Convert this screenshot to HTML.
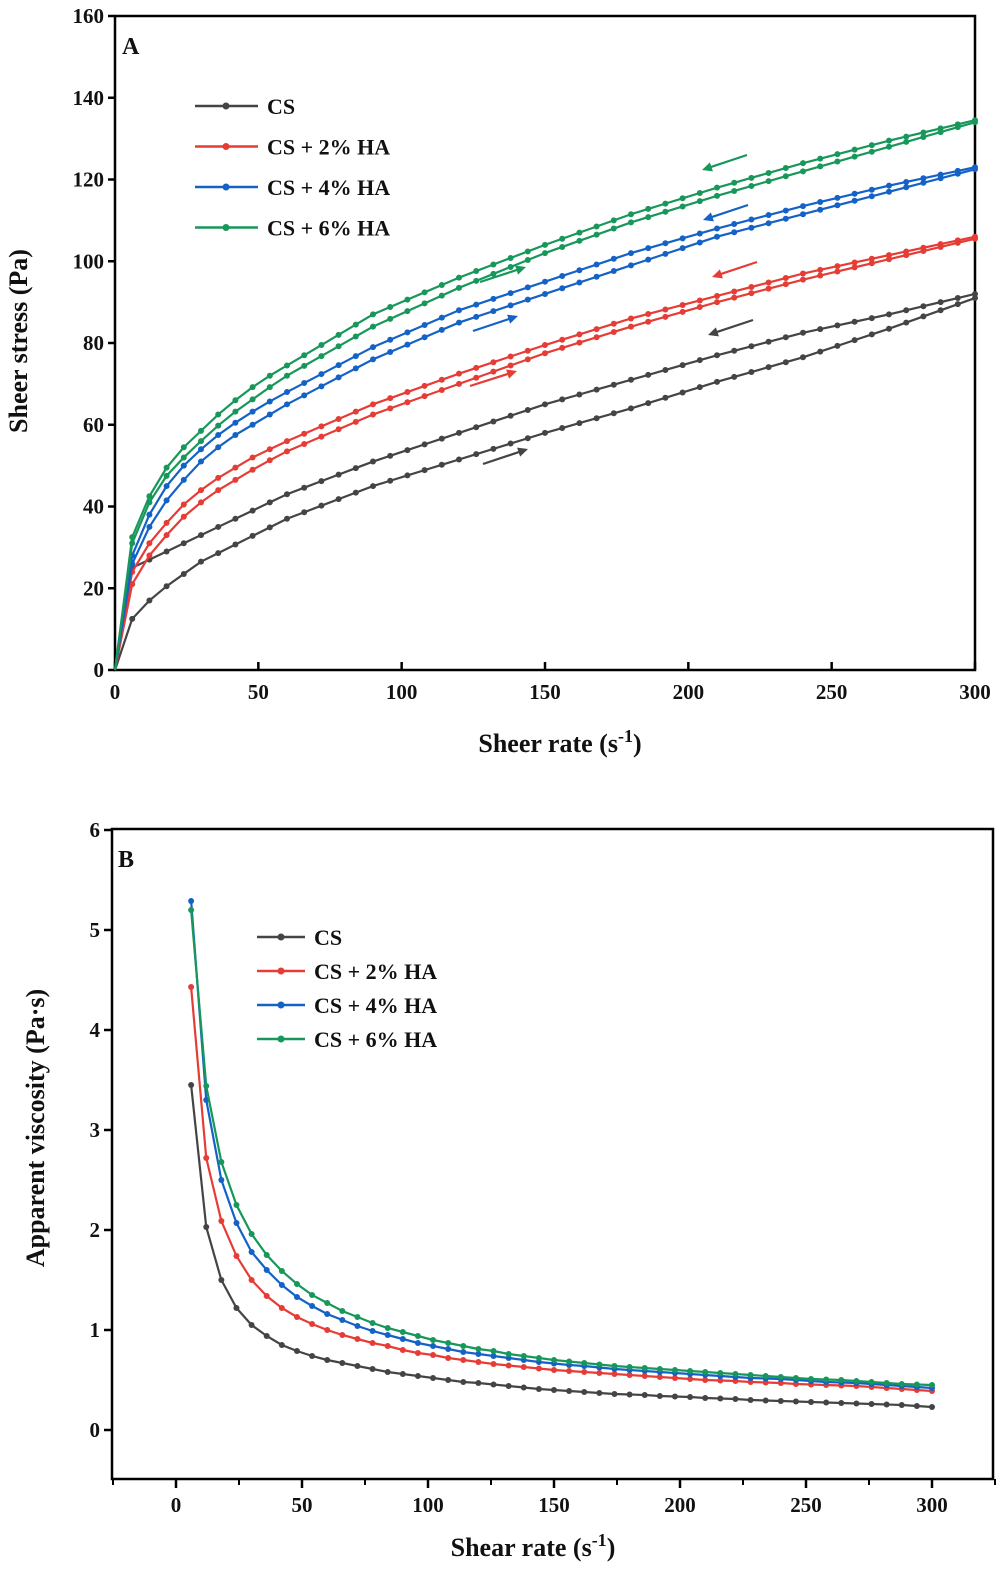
<!DOCTYPE html>
<html><head><meta charset="utf-8"><style>
body{margin:0;background:#fff;}
svg text{font-family:"Liberation Serif",serif;font-weight:bold;fill:#111;}
</style></head><body>
<svg id="chart" width="1006" height="1578" xmlns="http://www.w3.org/2000/svg">
<g id="A"></g>
<g id="B"></g>
</svg>
<script>
const rateA=[0,6,12,18,24,30,36,42,48,54,60,66,72,78,84,90,96,102,108,114,120,126,132,138,144,150,156,162,168,174,180,186,192,198,204,210,216,222,228,234,240,246,252,258,264,270,276,282,288,294,300];
const csUp=[0,12.5,17,20.5,23.5,26.5,28.6,30.7,32.8,34.9,37,38.6,40.2,41.8,43.4,45,46.3,47.6,48.9,50.2,51.5,52.8,54.1,55.4,56.7,58,59.2,60.4,61.6,62.8,64,65.3,66.6,67.9,69.2,70.5,71.7,72.9,74.1,75.3,76.5,77.9,79.3,80.7,82.1,83.5,85,86.5,88,89.5,91];
const csDown=[0,25,27,29,31,33,35,37,39,41,43,44.6,46.2,47.8,49.4,51,52.4,53.8,55.2,56.6,58,59.4,60.8,62.2,63.6,65,66.2,67.4,68.6,69.8,71,72.2,73.4,74.6,75.8,77,78.1,79.2,80.3,81.4,82.5,83.4,84.3,85.2,86.1,87,88,89,90,91,92];
const ha2Up=[0,21,28,33,37.5,41,44,46.5,49,51.3,53.5,55.3,57.1,58.9,60.7,62.5,64,65.5,67,68.5,70,71.5,73,74.5,76,77.5,78.8,80.1,81.4,82.7,84,85.2,86.4,87.6,88.8,90,91.1,92.2,93.3,94.4,95.5,96.5,97.5,98.5,99.5,100.5,101.5,102.5,103.5,104.5,105.5];
const ha2Down=[0,24,31,36,40.5,44,47,49.5,52,54,56,57.8,59.6,61.4,63.2,65,66.5,68,69.5,71,72.5,73.9,75.3,76.7,78.1,79.5,80.8,82.1,83.4,84.7,86,87.1,88.2,89.3,90.4,91.5,92.6,93.7,94.8,95.9,97,97.9,98.8,99.7,100.6,101.5,102.4,103.3,104.2,105.1,106];
const ha4Up=[0,26,35,41.5,46.5,51,54.5,57.5,60,62.5,65,67.2,69.4,71.6,73.8,76,77.8,79.6,81.4,83.2,85,86.4,87.8,89.2,90.6,92,93.4,94.8,96.2,97.6,99,100.4,101.8,103.2,104.6,106,107.1,108.2,109.3,110.4,111.5,112.6,113.7,114.8,115.9,117,118.1,119.2,120.3,121.4,122.5];
const ha4Down=[0,28,38,45,50,54,57.5,60.5,63.2,65.7,68,70.2,72.4,74.6,76.8,79,80.8,82.6,84.4,86.2,88,89.4,90.8,92.2,93.6,95,96.4,97.8,99.2,100.6,102,103.2,104.4,105.6,106.8,108,109.1,110.2,111.3,112.4,113.5,114.5,115.5,116.5,117.5,118.5,119.4,120.3,121.2,122.1,123];
const ha6Up=[0,31,41,47.5,52,56,59.8,63.2,66.2,69.2,72,74.4,76.8,79.2,81.6,84,85.9,87.8,89.7,91.6,93.5,95.2,96.9,98.6,100.3,102,103.5,105,106.5,108,109.5,110.8,112.1,113.4,114.7,116,117.2,118.4,119.6,120.8,122,123.2,124.4,125.6,126.8,128,129.2,130.4,131.6,132.8,134];
const ha6Down=[0,32.5,42.5,49.5,54.5,58.5,62.5,66,69.2,72,74.5,77,79.5,82,84.5,87,88.8,90.6,92.4,94.2,96,97.6,99.2,100.8,102.4,104,105.5,107,108.5,110,111.5,112.8,114.1,115.4,116.7,118,119.2,120.4,121.6,122.8,124,125.1,126.2,127.3,128.4,129.5,130.5,131.5,132.5,133.5,134.5];
const xTicksA=[0,50,100,150,200,250,300];
const yTicksA=[0,20,40,60,80,100,120,140,160];

const rateB=[6,12,18,24,30,36,42,48,54,60,66,72,78,84,90,96,102,108,114,120,126,132,138,144,150,156,162,168,174,180,186,192,198,204,210,216,222,228,234,240,246,252,258,264,270,276,282,288,294,300];
const visCS=[3.45,2.03,1.5,1.22,1.05,0.94,0.85,0.79,0.74,0.70,0.67,0.64,0.61,0.58,0.56,0.54,0.52,0.50,0.48,0.47,0.455,0.44,0.425,0.41,0.40,0.39,0.38,0.37,0.36,0.355,0.35,0.34,0.335,0.33,0.32,0.315,0.31,0.30,0.295,0.29,0.285,0.28,0.275,0.27,0.265,0.26,0.255,0.25,0.24,0.23];
const vis2=[4.43,2.72,2.09,1.74,1.5,1.34,1.22,1.13,1.06,1.0,0.95,0.91,0.87,0.84,0.80,0.77,0.75,0.72,0.70,0.68,0.66,0.645,0.63,0.615,0.60,0.59,0.58,0.57,0.56,0.55,0.54,0.53,0.52,0.51,0.50,0.495,0.49,0.48,0.475,0.47,0.46,0.455,0.45,0.445,0.44,0.43,0.42,0.41,0.40,0.39];
const vis4=[5.29,3.3,2.5,2.07,1.78,1.6,1.45,1.33,1.24,1.16,1.10,1.04,0.99,0.95,0.91,0.87,0.84,0.81,0.78,0.76,0.74,0.72,0.70,0.68,0.665,0.65,0.64,0.625,0.61,0.60,0.59,0.58,0.57,0.56,0.55,0.54,0.53,0.52,0.515,0.51,0.50,0.49,0.48,0.475,0.47,0.46,0.45,0.44,0.43,0.42];
const vis6=[5.2,3.44,2.68,2.25,1.96,1.75,1.59,1.46,1.35,1.27,1.19,1.13,1.07,1.02,0.98,0.94,0.90,0.87,0.84,0.81,0.79,0.76,0.74,0.72,0.70,0.685,0.67,0.655,0.64,0.63,0.62,0.61,0.60,0.59,0.58,0.57,0.56,0.55,0.54,0.53,0.52,0.51,0.505,0.50,0.49,0.48,0.47,0.46,0.455,0.45];
const xTicksB=[0,50,100,150,200,250,300];
const yTicksB=[0,1,2,3,4,5,6];
const legendLabels=["CS","CS + 2% HA","CS + 4% HA","CS + 6% HA"];
const colors=["#444444","#e63c36","#1462c6","#18975a"];

const NS="http://www.w3.org/2000/svg";
function mk(p,tag,attrs,txt){const e=document.createElementNS(NS,tag);for(const k in attrs)e.setAttribute(k,attrs[k]);if(txt!==undefined)e.textContent=txt;p.appendChild(e);return e;}

// Panel A
const gA=document.getElementById('A');
const xA=v=>115+v*(975-115)/300, yA=v=>670-v*(670-16)/160;
mk(gA,'rect',{x:115,y:16,width:860,height:654,fill:'none',stroke:'#000','stroke-width':2.5});
xTicksA.forEach(t=>{
  const l=mk(gA,'line',{x1:xA(t),x2:xA(t),y1:670,y2:662,stroke:'#000','stroke-width':2.5});
  
  const tx=mk(gA,'text',{x:xA(t),y:699,'text-anchor':'middle','font-size':21},t);
  
});
yTicksA.forEach(t=>{
  const l=mk(gA,'line',{x1:108,x2:115,y1:yA(t),y2:yA(t),stroke:'#000','stroke-width':2.5});
  
  const tx=mk(gA,'text',{x:104,y:yA(t)+7,'text-anchor':'end','font-size':21},t);
  
});
const seriesA=[[csUp,csDown],[ha2Up,ha2Down],[ha4Up,ha4Down],[ha6Up,ha6Down]];
seriesA.forEach((pair,i)=>{pair.forEach((arr,j)=>{
  const pts=arr.map((v,k)=>xA(rateA[k])+','+yA(v)).join(' ');
  const pl=mk(gA,'polyline',{points:pts,fill:'none',stroke:colors[i],'stroke-width':2.2});
  
  arr.forEach((v,k)=>{if(k>0){const c=mk(gA,'circle',{cx:xA(rateA[k]),cy:yA(v),r:3,fill:colors[i]});
    }});
});});
// arrows
const arrows=[[483,464,528,449,0],[753,320,708,335,0],[470,386,517,371,1],[757,262,712,277,1],[473,331,518,316,2],[748,205,703,220,2],[480,282,526,267,3],[747,155,702,170,3]];
arrows.forEach(a=>{
  const [x1,y1,x2,y2,ci]=a;const ang=Math.atan2(y2-y1,x2-x1);
  const g=mk(gA,'g',{});
  mk(g,'line',{x1:x1,y1:y1,x2:x2-8*Math.cos(ang),y2:y2-8*Math.sin(ang),stroke:colors[ci],'stroke-width':2.2});
  const p1=[x2-11*Math.cos(ang-0.45),y2-11*Math.sin(ang-0.45)],p2=[x2-11*Math.cos(ang+0.45),y2-11*Math.sin(ang+0.45)];
  mk(g,'polygon',{points:`${x2},${y2} ${p1} ${p2}`,fill:colors[ci]});
});
legendLabels.forEach((s,i)=>{
  const y=106+i*40.5;const g=mk(gA,'g',{});
  mk(g,'line',{x1:195,x2:258,y1:y,y2:y,stroke:colors[i],'stroke-width':2.5});
  mk(g,'circle',{cx:226,cy:y,r:3.5,fill:colors[i]});
  mk(g,'text',{x:267,y:y+8,'font-size':22},s);
});
const la=mk(gA,'text',{x:122,y:54,'font-size':24},'A');
const xla=mk(gA,'text',{x:560,y:752,'text-anchor':'middle','font-size':26},'');
xla.innerHTML='Sheer rate (s<tspan dy="-10" font-size="18">-1</tspan><tspan dy="10">)</tspan>';
const yla=mk(gA,'text',{x:0,y:0,'text-anchor':'middle','font-size':26,transform:'translate(27,341) rotate(-90)'},'Sheer stress (Pa)');

// Panel B
const gB=document.getElementById('B');
const xB=v=>176+v*(302-176)/50, yB=v=>1430-v*100;
mk(gB,'rect',{x:112,y:829,width:881,height:650,fill:'none',stroke:'#000','stroke-width':2.5});
xTicksB.forEach(t=>{
  const l=mk(gB,'line',{x1:xB(t),x2:xB(t),y1:1479,y2:1488,stroke:'#000','stroke-width':2.5});
  
  const m=mk(gB,'line',{x1:xB(t+25),x2:xB(t+25),y1:1479,y2:1485,stroke:'#000','stroke-width':2});
  
  const tx=mk(gB,'text',{x:xB(t),y:1512,'text-anchor':'middle','font-size':21},t);
  
});
const m0=mk(gB,'line',{x1:xB(-25),x2:xB(-25),y1:1479,y2:1485,stroke:'#000','stroke-width':2});
yTicksB.forEach(t=>{
  const l=mk(gB,'line',{x1:104,x2:112,y1:yB(t),y2:yB(t),stroke:'#000','stroke-width':2.5});
  
  const tx=mk(gB,'text',{x:100,y:yB(t)+7,'text-anchor':'end','font-size':21},t);
  
});
[visCS,vis2,vis4,vis6].forEach((arr,i)=>{
  const pts=arr.map((v,k)=>xB(rateB[k])+','+yB(v)).join(' ');
  const pl=mk(gB,'polyline',{points:pts,fill:'none',stroke:colors[i],'stroke-width':2.2});
  
  arr.forEach((v,k)=>{const c=mk(gB,'circle',{cx:xB(rateB[k]),cy:yB(v),r:3,fill:colors[i]});
    });
});
legendLabels.forEach((s,i)=>{
  const y=937+i*34;const g=mk(gB,'g',{});
  mk(g,'line',{x1:257,x2:305,y1:y,y2:y,stroke:colors[i],'stroke-width':2.5});
  mk(g,'circle',{cx:281,cy:y,r:3.5,fill:colors[i]});
  mk(g,'text',{x:314,y:y+8,'font-size':22},s);
});
const lb=mk(gB,'text',{x:118,y:867,'font-size':24},'B');
const xlb=mk(gB,'text',{x:533,y:1556,'text-anchor':'middle','font-size':26},'');
xlb.innerHTML='Shear rate (s<tspan dy="-10" font-size="18">-1</tspan><tspan dy="10">)</tspan>';
const ylb=mk(gB,'text',{x:0,y:0,'text-anchor':'middle','font-size':26,transform:'translate(44,1128) rotate(-90)'},'Apparent viscosity (Pa·s)');
</script>
</body></html>
